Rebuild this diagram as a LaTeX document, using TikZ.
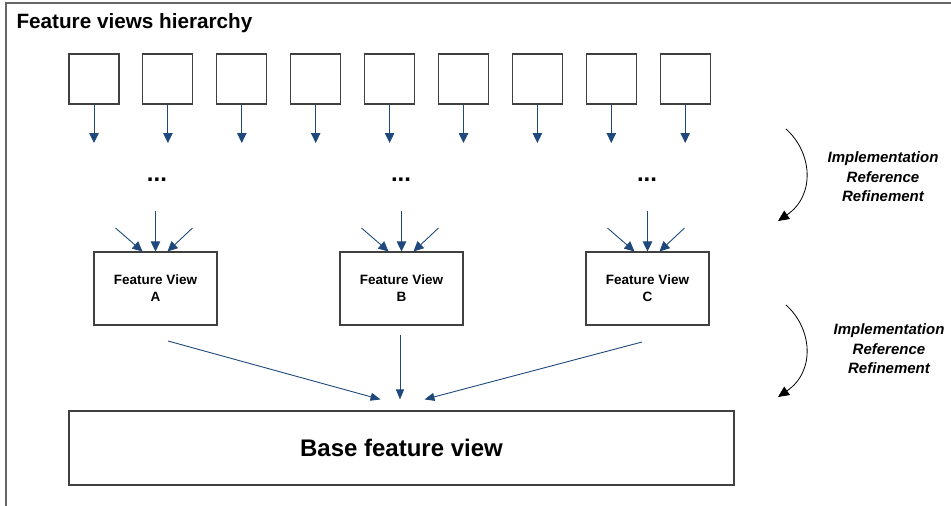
\documentclass[tikz,border=0pt]{standalone}
\usepackage{fontspec}
\setmainfont{Liberation Sans}
\usetikzlibrary{positioning,arrows.meta}

\definecolor{linkblue}{RGB}{31,73,125}
\definecolor{boxgray}{RGB}{64,64,64}

\begin{document}
\begin{tikzpicture}[x=1pt,y=-1pt,
  fvbox/.style={draw=boxgray, line width=1.1pt, fill=white, inner sep=0pt},
  link/.style={draw=linkblue, line width=0.9pt, -{Triangle[length=10pt,width=9.5pt]}},
  baselink/.style={draw=linkblue, line width=0.9pt, -{Triangle[length=10pt,width=8pt]}},
  refine/.style={draw=black, line width=0.8pt, -{Triangle[length=11pt,width=10pt]}},
  refinetext/.style={font=\bfseries\itshape\fontsize{15}{19.5}\selectfont, align=center}]
\useasboundingbox (0,0) rectangle (951,506);
% frame
\draw[line width=1.5pt, color=gray!80!black](6,506) -- (6,3) -- (951,3);
\node[anchor=west, font=\bfseries\fontsize{20.7}{24}\selectfont] (title) at (13,23) {Feature views hierarchy};

% top row of small views
\foreach \i in {1,...,9}{
  \node[fvbox, minimum width=50pt, minimum height=50pt] (t\i) at ({94+73.9*(\i-1)},79) {};
  \coordinate (e\i) at ({94+73.9*(\i-1)},143);
  \draw[link] (t\i.south) -- (e\i);
}

% dots
\node[font=\bfseries\fontsize{24}{24}\selectfont] (da) at (157,180) {...};
\node[font=\bfseries\fontsize{24}{24}\selectfont] (db) at (401,180) {...};
\node[font=\bfseries\fontsize{24}{24}\selectfont] (dc) at (647,180) {...};

% feature views
\node[fvbox, minimum width=123pt, minimum height=73pt, align=center,
      font=\bfseries\fontsize{13.5}{17}\selectfont] (fa) at (155.5,288.5) {Feature View\\A};
\node[fvbox, minimum width=123pt, minimum height=73pt, align=center,
      font=\bfseries\fontsize{13.5}{17}\selectfont] (fb) at (401.5,288.5) {Feature View\\B};
\node[fvbox, minimum width=123pt, minimum height=73pt, align=center,
      font=\bfseries\fontsize{13.5}{17}\selectfont] (fc) at (647.5,288.5) {Feature View\\C};

\foreach \f/\x in {fa/155.5,fb/401.5,fc/647.5}{
  \coordinate (\f l) at (\x-40,228);
  \coordinate (\f m) at (\x,211);
  \coordinate (\f r) at (\x+37,228);
  \draw[link] (\f l) -- ([xshift=-13pt]\f.north);
  \draw[link] (\f m) -- (\f.north);
  \draw[link] (\f r) -- ([xshift=12pt]\f.north);
}

% base view
\node[fvbox, minimum width=665pt, minimum height=74pt,
      font=\bfseries\fontsize{24}{28}\selectfont] (base) at (401.5,448) {Base feature view};
\coordinate (ba) at (168,341);
\coordinate (bb) at (400,335);
\coordinate (bc) at (642,342);
\draw[baselink] (ba) -- ([xshift=-21pt,yshift=11pt]base.north);
\draw[baselink] (bb) -- ([xshift=-1.5pt,yshift=11pt]base.north);
\draw[baselink] (bc) -- ([xshift=23pt,yshift=11pt]base.north);

% refinement arcs
\coordinate (r1s) at (786,129);
\coordinate (r1e) at (778,221);
\draw[refine] (r1s) .. controls (812,152) and (816,195) .. (r1e);
\node[refinetext] (r1) at (883,177) {Implementation\\Reference\\Refinement};
\coordinate (r2s) at (786,305);
\coordinate (r2e) at (778,397);
\draw[refine] (r2s) .. controls (812,328) and (816,371) .. (r2e);
\node[refinetext] (r2) at (889,349) {Implementation\\Reference\\Refinement};
\end{tikzpicture}
\end{document}
